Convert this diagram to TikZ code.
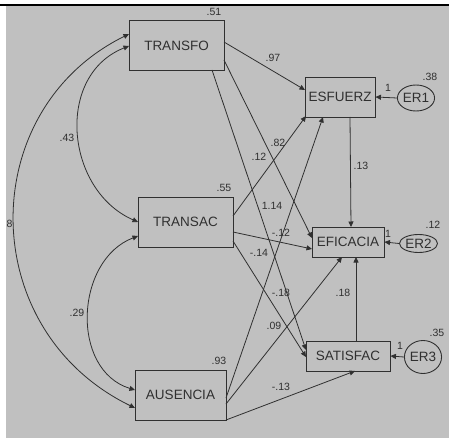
\documentclass[tikz,border=0pt]{standalone}
\usepackage{fontspec}
\setmainfont{Liberation Sans}
\usetikzlibrary{arrows.meta,calc,shapes.geometric}
\definecolor{bggray}{HTML}{C0C0C0}
\definecolor{ink}{HTML}{303030}
\begin{document}
\begin{tikzpicture}[x=1pt,y=-1pt,
  box/.style={draw=ink,line width=0.9pt,inner sep=0pt,text=ink,font=\fontsize{13.5}{14}\selectfont},
  errell/.style={draw=ink,line width=0.9pt,ellipse,inner sep=0pt,text=ink,font=\fontsize{13.5}{14}\selectfont},
  lab/.style={inner sep=0pt,text=ink,font=\fontsize{10.5}{11}\selectfont},
  path/.style={draw=ink,line width=0.8pt,-{Triangle[length=5.5pt,width=5pt]}},
  cov/.style={draw=ink,line width=0.8pt,{Triangle[length=5.5pt,width=5pt]}-{Triangle[length=5.5pt,width=5pt]}}]
\useasboundingbox (0,0) rectangle (449,438);
\fill[white] (0,0) rectangle (449,438);
\fill[bggray] (6,6.5) rectangle (449,438);
\fill[black] (0,4) rectangle (449,6.5);

% observed variables
\node[box,minimum width=95pt,minimum height=50pt] (TRANSFO) at (176.5,45.5) {TRANSFO};
\node[box,minimum width=70pt,minimum height=40pt] (ESFUERZ) at (340,97) {ESFUERZ};
\node[box,minimum width=95pt,minimum height=50pt] (TRANSAC) at (185.5,222) {TRANSAC};
\node[box,minimum width=72pt,minimum height=30pt] (EFICACIA) at (348,242) {EFICACIA};
\node[box,minimum width=91pt,minimum height=50pt] (AUSENCIA) at (180.5,395) {AUSENCIA};
\node[box,minimum width=84pt,minimum height=30pt] (SATISFAC) at (348,356) {SATISFAC};

% error terms
\node[errell,minimum width=35pt,minimum height=26pt] (ER1) at (416,98) {ER1};
\node[errell,minimum width=38pt,minimum height=18pt] (ER2) at (418.5,243.5) {ER2};
\node[errell,minimum width=33pt,minimum height=33pt] (ER3) at (423,357) {ER3};

% regression paths
\draw[path] ($(TRANSFO)+(47.5,-3.5)$) -- ($(ESFUERZ)+(-35,-7)$);
\draw[path] ($(TRANSFO)+(47.5,14.5)$) -- ($(EFICACIA)+(-36,-4)$);
\draw[path] ($(TRANSFO)+(35.5,24.5)$) -- ($(SATISFAC)+(-42,-6)$);
\draw[path] ($(TRANSAC)+(47.5,-6)$) -- ($(ESFUERZ)+(-34,19)$);
\draw[path] ($(TRANSAC)+(47.5,10)$) -- ($(EFICACIA)+(-36,7)$);
\draw[path] ($(TRANSAC)+(47.5,19)$) -- ($(SATISFAC)+(-42,1)$);
\draw[path] ($(AUSENCIA)+(45.5,3)$) -- ($(ESFUERZ)+(-17,20)$);
\draw[path] ($(AUSENCIA)+(45.5,9)$) -- ($(EFICACIA)+(-6,15)$);
\draw[path] ($(AUSENCIA)+(45.5,25)$) -- ($(SATISFAC)+(7,15)$);
\draw[path] ($(ESFUERZ)+(10,20)$) -- ($(EFICACIA)+(3,-15)$);
\draw[path] ($(SATISFAC)+(8,-15)$) -- ($(EFICACIA)+(8,15)$);
\draw[path] (ER1.west) -- (ESFUERZ.east);
\draw[path] (ER2.west) -- (EFICACIA.east);
\draw[path] (ER3.west) -- (SATISFAC.east);

% covariances
\draw[cov] ($(AUSENCIA)+(-45.5,13)$) .. controls (-25,330) and (-25,110) .. ($(TRANSFO)+(-47.5,-11.5)$);
\draw[cov] ($(TRANSAC)+(-47.5,0)$) .. controls (65,190) and (55,75) .. ($(TRANSFO)+(-47.5,0.5)$);
\draw[cov] ($(TRANSAC)+(-47.5,14)$) .. controls (75,260) and (70,370) .. ($(AUSENCIA)+(-45.5,-5)$);

% labels
\node[lab] (l51) at (214,12) {.51};
\node[lab] (l97) at (273,58) {.97};
\node[lab] (l38) at (430,77) {.38};
\node[lab] (lER1) at (388,87.5) {1};
\node[lab] (l43) at (67,138) {.43};
\node[lab] (l82) at (278,143) {.82};
\node[lab] (l12a) at (259,157) {.12};
\node[lab] (l13) at (361,166) {.13};
\node[lab] (l55) at (224,187.5) {.55};
\node[lab] (l114) at (272,206) {1.14};
\node[lab] (l8) at (9.5,224) {8};
\node[lab] (lm12) at (281,232.5) {-.12};
\node[lab] (l12b) at (433,225) {.12};
\node[lab] (lER2) at (388,234) {1};
\node[lab] (lm14) at (259,252.5) {-.14};
\node[lab] (lm18) at (281,292.5) {-.18};
\node[lab] (l18) at (343,292.5) {.18};
\node[lab] (l29) at (77,313) {.29};
\node[lab] (l09) at (274,326) {.09};
\node[lab] (l35) at (437,333) {.35};
\node[lab] (lER3) at (400,346) {1};
\node[lab] (l93) at (219,361) {.93};
\node[lab] (lm13) at (281,387) {-.13};
\end{tikzpicture}
\end{document}
